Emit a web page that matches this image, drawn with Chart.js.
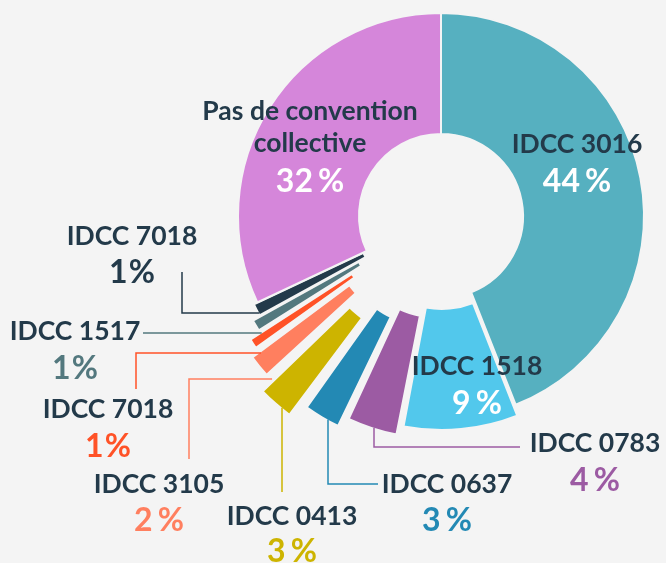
<!DOCTYPE html>
<html>
<head>
<meta charset="utf-8">
<script src="https://cdn.jsdelivr.net/npm/chart.js"></script>
<style>
  html, body { margin: 0; padding: 0; background: #f4f4f4; }
  #wrap { width: 666px; height: 563px; }
</style>
</head>
<body>
<div id="wrap"><canvas id="conventionChart" width="666" height="563"></canvas></div>
<script>
// Répartition par convention collective (en %)
const categories = ['IDCC 3016', 'IDCC 1518', 'IDCC 0783', 'IDCC 0637', 'IDCC 0413',
                    'IDCC 3105', 'IDCC 7018', 'IDCC 1517', 'IDCC 7018', 'Pas de convention collective'];
const shares = [44, 9, 4, 3, 3, 2, 1, 1, 1, 32];

// styles
const sliceColors = ['#56b0c0', '#52c8ec', '#9c5ba3', '#2389b4', '#cdb400',
                     '#ff7f5f', '#ff5227', '#53787e', '#233a4a', '#d586da'];
const sliceOffsets = [0, 30, 46, 68, 104, 70, 50, 25, 8, 0];
const BG = '#f4f4f4';
const TEXT = '#233a4a';

// label layout: text centre, percent colour, leader path (last segment goes to the slice)
const labelLayout = [
    { lines: ['IDCC 3016'], x: 577, y: 143, py: 180, pctColor: '#ffffff' },
    { lines: ['IDCC 1518'], x: 477, y: 365, py: 402, pctColor: '#ffffff' },
    { lines: ['IDCC 0783'], x: 595, y: 442, py: 479, pctColor: '#9c5ba3', leader: [[520, 447], [374, 447]], to: 'v' },
    { lines: ['IDCC 0637'], x: 447, y: 483, py: 519, pctColor: '#2389b4', leader: [[378, 484], [328, 484]], to: 'v' },
    { lines: ['IDCC 0413'], x: 292, y: 515, py: 550, pctColor: '#cdb400', leader: [[282, 492]], to: 'v' },
    { lines: ['IDCC 3105'], x: 159, y: 483, py: 519, pctColor: '#ff7f5f', leader: [[189, 459], [189, 379]], to: 'h' },
    { lines: ['IDCC 7018'], x: 108, y: 408, py: 445, pctColor: '#ff5227', leader: [[136, 389], [136, 353]], to: 'h' },
    { lines: ['IDCC 1517'], x: 75, y: 330, py: 367, pctColor: '#53787e', leader: [[143, 333]], to: 'h' },
    { lines: ['IDCC 7018'], x: 132, y: 235, py: 271, pctColor: '#233a4a', leader: [[182, 272], [182, 313]], to: 'h' },
    { lines: ['Pas de convention', 'collective'], x: 310, y: 110, py: 180, pctColor: '#ffffff' }
];

const LABEL_FONT = 'bold 26.5px Lato, "Open Sans", sans-serif';
const PCT_FONT = 'bold 32px Lato, "Open Sans", sans-serif';

// draws leader lines and labels on top of the doughnut
const labelPlugin = {
    id: 'sliceLabels',
    afterDatasetsDraw(chart) {
        const ctx = chart.ctx;
        const arcs = chart.getDatasetMeta(0).data;
        ctx.save();

        labelLayout.forEach((lab, i) => {
            const arc = arcs[i];
            const opts = arc.options;
            if (lab.leader) {
                // slice position after offset (same maths as Chart.js arc element)
                const off = (opts.offset || 0) / 4;
                const half = (arc.startAngle + arc.endAngle) / 2;
                const circ = arc.endAngle - arc.startAngle;
                const fix = 1 - Math.sin(Math.min(Math.PI, circ));
                const cx = arc.x + Math.cos(half) * off;
                const cy = arc.y + Math.sin(half) * off;
                const R = arc.outerRadius + off * fix - opts.borderWidth / 2;
                const pts = lab.leader.slice();
                const last = pts[pts.length - 1];
                let end;
                if (lab.to === 'h') {
                    const d = Math.sqrt(Math.max(R * R - (last[1] - cy) ** 2, 0));
                    end = [cx - d, last[1]];
                } else {
                    const d = Math.sqrt(Math.max(R * R - (last[0] - cx) ** 2, 0));
                    end = [last[0], cy + d];
                }
                pts.push(end);
                ctx.beginPath();
                ctx.strokeStyle = sliceColors[i];
                ctx.lineWidth = 1.5;
                pts.forEach((p, k) => k ? ctx.lineTo(p[0], p[1]) : ctx.moveTo(p[0], p[1]));
                ctx.stroke();
            }

            ctx.textBaseline = 'alphabetic';
            ctx.textAlign = 'center';
            ctx.fillStyle = TEXT;
            ctx.font = LABEL_FONT;
            const capL = ctx.measureText('I').actualBoundingBoxAscent;
            lab.lines.forEach((t, k) => {
                ctx.fillText(t, lab.x, lab.y + k * 32 + capL / 2);
            });

            // "44 %" : number and sign drawn with a small gap
            ctx.font = PCT_FONT;
            ctx.fillStyle = lab.pctColor;
            const num = String(shares[i]);
            const gap = shares[i] === 1 ? 1 : 5;
            const wNum = ctx.measureText(num).width;
            const wPct = ctx.measureText('%').width;
            const capP = ctx.measureText('4').actualBoundingBoxAscent;
            const x0 = lab.x - (wNum + gap + wPct) / 2;
            ctx.textAlign = 'left';
            ctx.fillText(num, x0, lab.py + capP / 2);
            ctx.fillText('%', x0 + wNum + gap, lab.py + capP / 2);
        });
        ctx.restore();
    }
};

new Chart(document.getElementById('conventionChart'), {
    type: 'doughnut',
    data: {
        labels: categories,
        datasets: [{
            data: shares,
            backgroundColor: sliceColors,
            borderColor: BG,
            borderWidth: 2,
            offset: sliceOffsets,
            hoverOffset: 0
        }]
    },
    options: {
        responsive: false,
        animation: false,
        radius: 203,
        cutout: '40.4%',
        layout: { padding: { left: 231, right: 15, top: 6, bottom: 137 } },
        plugins: {
            legend: { display: false },
            tooltip: { enabled: false }
        }
    },
    plugins: [labelPlugin]
});
</script>
</body>
</html>
